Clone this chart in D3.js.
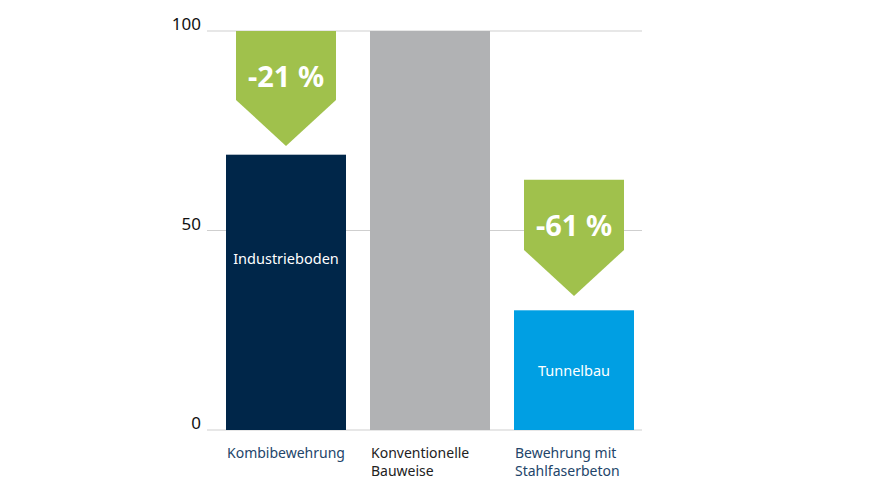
<!DOCTYPE html>
<html>
<head>
<meta charset="utf-8">
<script src="https://cdn.jsdelivr.net/npm/d3@7"></script>
<style>
  body { margin: 0; background: #fff; }
  text { font-family: "Noto Sans", "Open Sans", sans-serif; }
</style>
</head>
<body>
<svg id="chart" width="880" height="495"></svg>
<script>
// values
let categories = ["Kombibewehrung", "Konventionelle\nBauweise", "Bewehrung mit\nStahlfaserbeton"];
let values = [69, 100, 30];
let innerLabels = ["Industrieboden", "", "Tunnelbau"];
let arrowLabels = ["-21 %", null, "-61 %"];
let arrowFrom = [100, null, 62.7];
let arrowTo = [71.2, null, 33.6];
let yTicks = [0, 50, 100];

let barColors = ["#002649", "#b1b2b4", "#009fe3"];
let labelColors = ["#23456a", "#222", "#23456a"];
let green = "#a0c14c";

let svg = d3.select("#chart");

let x = d3.scaleBand()
    .domain(categories)
    .range([226, 634])
    .paddingInner(0.1667)
    .paddingOuter(0);

let y = d3.scaleLinear()
    .domain([0, 100])
    .range([430, 31]);

// gridlines + tick labels
let grid = svg.append("g").attr("class", "grid");
grid.selectAll("line")
  .data(yTicks)
  .enter().append("line")
    .attr("x1", 207)
    .attr("x2", 642)
    .attr("y1", d => y(d))
    .attr("y2", d => y(d))
    .style("stroke", "#cfcfcf")
    .style("stroke-width", 1);

grid.selectAll("text")
  .data(yTicks)
  .enter().append("text")
    .attr("x", 201)
    .attr("y", d => y(d) - 1)
    .attr("text-anchor", "end")
    .style("font-size", "17px")
    .style("fill", "#111")
    .text(d => d);

// bars
svg.append("g")
  .selectAll("rect")
  .data(values)
  .enter().append("rect")
    .attr("x", (d, i) => x(categories[i]))
    .attr("y", d => y(d))
    .attr("width", x.bandwidth())
    .attr("height", d => y(0) - y(d))
    .style("fill", (d, i) => barColors[i]);

// labels inside bars
svg.append("g")
  .selectAll("text")
  .data(innerLabels)
  .enter().append("text")
    .attr("x", (d, i) => x(categories[i]) + x.bandwidth() / 2)
    .attr("y", (d, i) => i == 0 ? 264 : 376)
    .attr("text-anchor", "middle")
    .style("font-size", "14.5px")
    .style("fill", "#fff")
    .text(d => d);

// green arrows
let arrowIdx = [0, 2];
let arrows = svg.append("g").attr("class", "arrows");
arrowIdx.forEach(function(i){
  let cx = x(categories[i]) + x.bandwidth() / 2;
  let half = 50;
  let top = y(arrowFrom[i]);
  let tip = y(arrowTo[i]);
  let shoulder = tip - 46;
  arrows.append("path")
    .attr("d", "M" + (cx - half) + "," + top +
               "L" + (cx + half) + "," + top +
               "L" + (cx + half) + "," + shoulder +
               "L" + cx + "," + tip +
               "L" + (cx - half) + "," + shoulder + "Z")
    .style("fill", green);
  arrows.append("text")
    .attr("x", cx)
    .attr("y", top + 56)
    .attr("text-anchor", "middle")
    .style("font-size", "29px")
    .style("font-weight", "bold")
    .style("fill", "#fff")
    .text(arrowLabels[i]);
});

// category labels (one text per line)
let cat = svg.append("g").attr("class", "categories");
categories.forEach(function(c, i){
  c.split("\n").forEach(function(line, j){
    cat.append("text")
      .attr("x", x(c) + 1)
      .attr("y", 458 + j * 18)
      .style("font-size", "14px")
      .style("fill", labelColors[i])
      .text(line);
  });
});
</script>
</body>
</html>
